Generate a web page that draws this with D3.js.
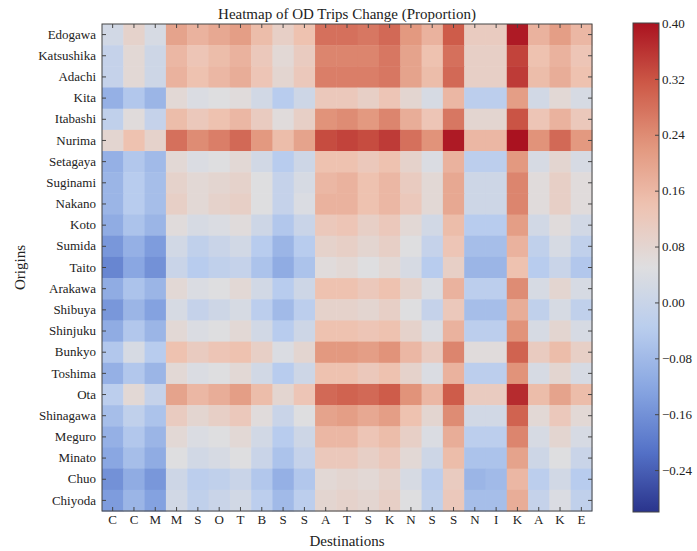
<!DOCTYPE html>
<html>
<head>
<meta charset="utf-8">
<script src="https://cdn.jsdelivr.net/npm/d3@7"></script>
<style>
  body { margin: 0; background: #fff; }
  svg text { font-family: "Liberation Serif", "DejaVu Serif", serif; fill: #222; }
</style>
</head>
<body>
<div id="chart"></div>
<script>
// Heatmap of OD trip change, origins x destinations
const origins = ['Edogawa', 'Katsushika', 'Adachi', 'Kita', 'Itabashi', 'Nurima', 'Setagaya', 'Suginami',
    'Nakano', 'Koto', 'Sumida', 'Taito', 'Arakawa', 'Shibuya', 'Shinjuku', 'Bunkyo', 'Toshima', 'Ota',
    'Shinagawa', 'Meguro', 'Minato', 'Chuo', 'Chiyoda'];
const destinations = ['C', 'C', 'M', 'M', 'S', 'O', 'T', 'B', 'S', 'S', 'A', 'T', 'S', 'K', 'N', 'S', 'S',
    'N', 'I', 'K', 'A', 'K', 'E'];
const colorbarTicks = [-0.24, -0.16, -0.08, 0.00, 0.08, 0.16, 0.24, 0.32, 0.40];
const valueMin = -0.30, valueMax = 0.40;

// one row per origin, columns in destination order
const edogawa    = [0.02, 0.09, 0.03, 0.20, 0.17, 0.19, 0.21, 0.15, 0.10, 0.14, 0.28, 0.28, 0.27, 0.29, 0.22, 0.17, 0.31, 0.11, 0.11, 0.39, 0.17, 0.21, 0.16];
const katsushika = [-0.01, 0.07, 0.01, 0.16, 0.13, 0.15, 0.17, 0.12, 0.07, 0.11, 0.25, 0.25, 0.25, 0.27, 0.20, 0.14, 0.28, 0.10, 0.10, 0.34, 0.14, 0.17, 0.13];
const adachi     = [-0.01, 0.07, 0.01, 0.17, 0.14, 0.16, 0.18, 0.13, 0.08, 0.12, 0.26, 0.26, 0.26, 0.27, 0.20, 0.15, 0.29, 0.10, 0.10, 0.35, 0.15, 0.18, 0.14];
const kita       = [-0.10, -0.05, -0.09, 0.07, 0.04, 0.05, 0.06, 0.02, -0.04, 0.01, 0.12, 0.12, 0.10, 0.13, 0.08, 0.03, 0.16, -0.03, -0.03, 0.21, 0.02, 0.07, 0.03];
const itabashi   = [-0.02, 0.06, -0.01, 0.15, 0.12, 0.14, 0.16, 0.11, 0.06, 0.10, 0.23, 0.24, 0.22, 0.25, 0.18, 0.13, 0.27, 0.08, 0.08, 0.32, 0.13, 0.17, 0.12];
const nurima     = [0.08, 0.14, 0.09, 0.28, 0.24, 0.26, 0.29, 0.22, 0.15, 0.20, 0.33, 0.34, 0.33, 0.35, 0.28, 0.23, 0.39, 0.16, 0.16, 0.40, 0.23, 0.29, 0.22];
const setagaya   = [-0.10, -0.05, -0.08, 0.07, 0.04, 0.05, 0.07, 0.02, -0.04, 0.01, 0.14, 0.14, 0.12, 0.14, 0.09, 0.04, 0.17, -0.03, -0.03, 0.22, 0.03, 0.08, 0.03];
const suginami   = [-0.09, -0.04, -0.07, 0.09, 0.07, 0.08, 0.09, 0.05, -0.01, 0.03, 0.16, 0.17, 0.14, 0.16, 0.11, 0.07, 0.19, 0.01, 0.01, 0.25, 0.06, 0.10, 0.06];
const nakano     = [-0.09, -0.04, -0.07, 0.10, 0.07, 0.09, 0.10, 0.05, -0.01, 0.04, 0.17, 0.17, 0.14, 0.16, 0.12, 0.07, 0.19, 0.01, 0.01, 0.25, 0.06, 0.10, 0.06];
const koto       = [-0.11, -0.06, -0.09, 0.06, 0.03, 0.04, 0.06, 0.01, -0.05, 0.00, 0.12, 0.13, 0.10, 0.12, 0.07, 0.02, 0.15, -0.04, -0.04, 0.21, 0.02, 0.06, 0.02];
const sumida     = [-0.15, -0.10, -0.14, 0.02, -0.02, 0.00, 0.02, -0.04, -0.09, -0.04, 0.09, 0.10, 0.08, 0.10, 0.05, -0.01, 0.13, -0.07, -0.07, 0.17, -0.02, 0.03, -0.02];
const taito      = [-0.18, -0.12, -0.16, 0.00, -0.04, -0.02, -0.01, -0.06, -0.11, -0.06, 0.06, 0.07, 0.05, 0.07, 0.03, -0.04, 0.10, -0.09, -0.09, 0.14, -0.04, 0.00, -0.05];
const arakawa    = [-0.11, -0.06, -0.09, 0.07, 0.04, 0.05, 0.07, 0.02, -0.04, 0.01, 0.14, 0.14, 0.12, 0.14, 0.09, 0.04, 0.17, -0.03, -0.03, 0.24, 0.03, 0.08, 0.03];
const shibuya    = [-0.15, -0.09, -0.13, 0.03, -0.01, 0.01, 0.03, -0.03, -0.08, -0.03, 0.09, 0.09, 0.08, 0.10, 0.05, -0.01, 0.12, -0.07, -0.07, 0.18, -0.02, 0.03, -0.02];
const shinjuku   = [-0.11, -0.05, -0.09, 0.07, 0.04, 0.05, 0.07, 0.02, -0.04, 0.01, 0.14, 0.14, 0.13, 0.14, 0.09, 0.04, 0.17, -0.03, -0.03, 0.23, 0.03, 0.08, 0.03];
const bunkyo     = [-0.05, 0.03, -0.04, 0.14, 0.11, 0.13, 0.14, 0.10, 0.04, 0.08, 0.22, 0.22, 0.21, 0.23, 0.16, 0.11, 0.25, 0.06, 0.06, 0.30, 0.11, 0.15, 0.10];
const toshima    = [-0.10, -0.05, -0.09, 0.07, 0.04, 0.05, 0.07, 0.02, -0.04, 0.01, 0.14, 0.14, 0.12, 0.14, 0.09, 0.04, 0.17, -0.03, -0.03, 0.23, 0.03, 0.08, 0.03];
const ota        = [-0.03, 0.07, -0.01, 0.20, 0.16, 0.18, 0.21, 0.15, 0.08, 0.13, 0.29, 0.30, 0.29, 0.31, 0.23, 0.16, 0.31, 0.11, 0.11, 0.37, 0.15, 0.20, 0.15];
const shinagawa  = [-0.07, -0.02, -0.06, 0.11, 0.08, 0.10, 0.12, 0.06, 0.00, 0.05, 0.20, 0.21, 0.19, 0.21, 0.14, 0.08, 0.24, 0.02, 0.02, 0.30, 0.07, 0.12, 0.07];
const meguro     = [-0.10, -0.05, -0.09, 0.07, 0.04, 0.05, 0.07, 0.02, -0.04, 0.01, 0.16, 0.16, 0.13, 0.15, 0.10, 0.04, 0.18, -0.03, -0.03, 0.25, 0.03, 0.08, 0.03];
const minato     = [-0.12, -0.07, -0.11, 0.05, 0.02, 0.03, 0.05, 0.00, -0.06, -0.01, 0.12, 0.12, 0.10, 0.12, 0.07, 0.01, 0.15, -0.06, -0.06, 0.20, 0.01, 0.05, 0.00];
const chuo       = [-0.16, -0.11, -0.15, 0.01, -0.03, -0.02, 0.00, -0.05, -0.10, -0.05, 0.07, 0.08, 0.07, 0.09, 0.03, -0.03, 0.11, -0.09, -0.08, 0.16, -0.03, 0.02, -0.04];
const chiyoda    = [-0.14, -0.09, -0.13, 0.02, -0.02, 0.00, 0.02, -0.03, -0.08, -0.03, 0.08, 0.09, 0.08, 0.10, 0.05, -0.02, 0.12, -0.07, -0.07, 0.18, -0.01, 0.04, -0.02];

const matrix = [edogawa, katsushika, adachi, kita, itabashi, nurima, setagaya, suginami, nakano, koto,
    sumida, taito, arakawa, shibuya, shinjuku, bunkyo, toshima, ota, shinagawa, meguro, minato, chuo, chiyoda];

const width = 697, height = 551;
const margin = { top: 24, left: 102 };
const plotW = 490, plotH = 487;

// coolwarm-like colormap, a little muted like the source image
const coolwarm = ['#2a348c', '#5573c8', '#87a5e1', '#b9cdee', '#dedee0', '#eec3b2', '#e2967d', '#cd5a48', '#aa1220'];
const color = d3.scaleLinear()
    .domain(d3.range(coolwarm.length).map(i => valueMin + (valueMax - valueMin) * i / (coolwarm.length - 1)))
    .range(coolwarm)
    .interpolate(d3.interpolateRgb)
    .clamp(true);

const svg = d3.select('#chart').append('svg')
    .attr('width', width)
    .attr('height', height);

svg.append('rect').attr('width', width).attr('height', height).attr('fill', '#fff');

// band scales use index so repeated letters stay separate
const x = d3.scaleBand().domain(d3.range(destinations.length)).range([0, plotW]);
const y = d3.scaleBand().domain(d3.range(origins.length)).range([0, plotH]);

const g = svg.append('g').attr('transform', `translate(${margin.left},${margin.top})`);

matrix.forEach((row, i) => {
    g.selectAll(null)
        .data(row)
        .enter()
        .append('rect')
        .attr('x', (d, j) => x(j))
        .attr('y', y(i))
        .attr('width', x.bandwidth() + 0.5)
        .attr('height', y.bandwidth() + 0.5)
        .attr('fill', d => color(d));
});

// ticks point inward on all four sides (classic matplotlib)
const styleAxis = sel => {
    sel.select('.domain').remove();
    sel.selectAll('.tick line').attr('stroke', '#444');
    sel.selectAll('.tick text').attr('font-size', '13px').attr('fill', '#222');
};

g.append('g')
    .call(d3.axisLeft(y).tickFormat(i => origins[i]).tickSizeInner(-4).tickSizeOuter(0).tickPadding(6))
    .call(styleAxis);

g.append('g')
    .attr('transform', `translate(0,${plotH})`)
    .call(d3.axisBottom(x).tickFormat(i => destinations[i]).tickSizeInner(-4).tickSizeOuter(0).tickPadding(4))
    .call(styleAxis);

g.append('g')
    .call(d3.axisTop(x).tickFormat('').tickSizeInner(-4).tickSizeOuter(0))
    .call(styleAxis);

g.append('g')
    .attr('transform', `translate(${plotW},0)`)
    .call(d3.axisRight(y).tickFormat('').tickSizeInner(-4).tickSizeOuter(0))
    .call(styleAxis);

g.append('rect')
    .attr('width', plotW)
    .attr('height', plotH)
    .attr('fill', 'none')
    .attr('stroke', '#444')
    .attr('stroke-width', 1);

// titles
svg.append('text')
    .attr('x', margin.left + plotW / 2)
    .attr('y', 19)
    .attr('text-anchor', 'middle')
    .attr('font-size', '15px')
    .text('Heatmap of OD Trips Change (Proportion)');

svg.append('text')
    .attr('x', margin.left + plotW / 2)
    .attr('y', 546)
    .attr('text-anchor', 'middle')
    .attr('font-size', '15px')
    .text('Destinations');

svg.append('text')
    .attr('transform', `translate(25,${margin.top + plotH / 2}) rotate(-90)`)
    .attr('text-anchor', 'middle')
    .attr('font-size', '15px')
    .text('Origins');

// colorbar
const cbX = 633, cbW = 26, cbTop = 23, cbH = 489;
const cbScale = d3.scaleLinear().domain([valueMin, valueMax]).range([cbTop + cbH, cbTop]);

const grad = svg.append('defs').append('linearGradient')
    .attr('id', 'cbgrad')
    .attr('x1', 0).attr('y1', 1).attr('x2', 0).attr('y2', 0);

d3.range(0, 1.0001, 0.02).forEach(t => {
    grad.append('stop')
        .attr('offset', t)
        .attr('stop-color', color(valueMin + t * (valueMax - valueMin)));
});

svg.append('rect')
    .attr('x', cbX)
    .attr('y', cbTop)
    .attr('width', cbW)
    .attr('height', cbH)
    .attr('fill', 'url(#cbgrad)')
    .attr('stroke', '#444')
    .attr('stroke-width', 1);

svg.append('g')
    .attr('transform', `translate(${cbX + cbW},0)`)
    .call(d3.axisRight(cbScale)
        .tickValues(colorbarTicks)
        .tickFormat(d => d3.format('.2f')(d).replace('-', '\u2212'))
        .tickSizeInner(-4)
        .tickSizeOuter(0)
        .tickPadding(3))
    .call(styleAxis);
</script>
</body>
</html>
